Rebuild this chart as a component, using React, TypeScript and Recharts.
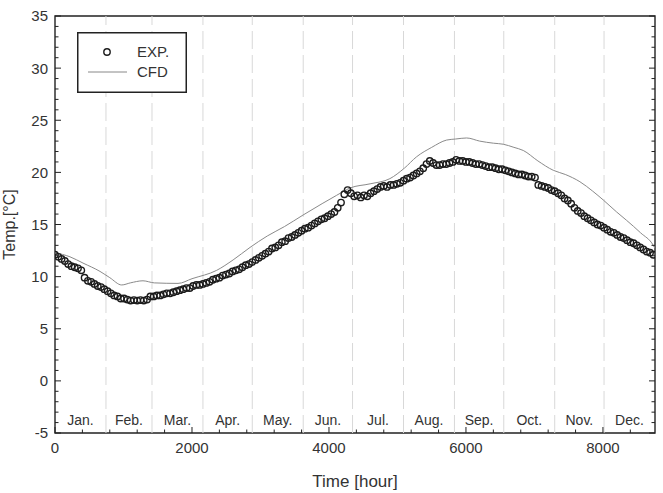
import React from "react";
import { ComposedChart, Scatter, Line, XAxis, YAxis, ReferenceLine, ReferenceArea, Legend } from "recharts";

// measured temperatures, one sample every EXP_STEP hours starting at hour 0
const EXP_STEP = 48;
const expTemps = [
  12.1, 11.9, 11.7, 11.5, 11.2, 11.0, 10.9, 10.8, 10.6, 9.9,
  9.6, 9.5, 9.3, 9.1, 9.0, 8.8, 8.6, 8.4, 8.2, 8.1,
  7.9, 7.9, 7.8, 7.7, 7.75, 7.7, 7.75, 7.7, 7.8, 8.1,
  8.1, 8.2, 8.2, 8.3, 8.4, 8.4, 8.5, 8.6, 8.7, 8.8,
  8.9, 8.9, 9.1, 9.2, 9.2, 9.3, 9.4, 9.5, 9.7, 9.8,
  9.9, 10.1, 10.2, 10.3, 10.5, 10.6, 10.7, 10.9, 11.1, 11.2,
  11.4, 11.6, 11.8, 12.0, 12.2, 12.4, 12.7, 12.8, 13.0, 13.3,
  13.4, 13.7, 13.8, 14.0, 14.2, 14.4, 14.6, 14.7, 14.9, 15.1,
  15.3, 15.5, 15.6, 15.8, 16.0, 16.2, 16.6, 17.1, 17.9, 18.3,
  18.0, 17.7, 17.8, 17.6, 17.8, 17.7, 18.0, 18.2, 18.4, 18.6,
  18.7, 18.6, 18.8, 18.8, 18.9, 19.0, 19.2, 19.4, 19.5, 19.7,
  19.9, 20.1, 20.4, 20.8, 21.1, 20.9, 20.7, 20.7, 20.8, 20.8,
  20.9, 21.0, 21.2, 21.1, 21.1, 21.0, 21.0, 20.9, 20.8, 20.8,
  20.7, 20.6, 20.5, 20.5, 20.4, 20.3, 20.3, 20.2, 20.1, 20.0,
  19.9, 19.8, 19.8, 19.7, 19.6, 19.6, 19.5, 18.8, 18.7, 18.6,
  18.5, 18.3, 18.2, 18.0, 17.8, 17.5, 17.3, 17.0, 16.6, 16.3,
  16.1, 15.8, 15.6, 15.4, 15.2, 15.0, 14.9, 14.7, 14.5, 14.3,
  14.2, 14.0, 13.8, 13.7, 13.5, 13.3, 13.2, 13.0, 12.8, 12.6,
  12.4, 12.3, 12.1,
];

// simulated temperature
const cfdHours = [
  0, 219, 409, 657, 800, 974, 1100, 1285, 1450, 1796,
  2000, 2360, 2600, 2847, 3100, 3350, 3620, 3900, 4112, 4307,
  4600, 4890, 5100, 5280, 5500, 5718, 5850, 6010, 6200, 6400,
  6545, 6700, 6837, 7050, 7275, 7450, 7664, 7850, 8005, 8200,
  8345, 8550, 8735, 8760,
];
const cfdTemps = [
  12.3, 11.9, 11.3, 10.5, 9.9, 9.2, 9.4, 9.6, 9.4, 9.35,
  9.8, 10.6, 11.6, 12.8, 13.9, 14.8, 15.9, 17.0, 17.8, 18.5,
  18.9, 19.4, 20.4, 21.5, 22.4, 23.1, 23.2, 23.3, 23.0, 22.8,
  22.7, 22.4, 22.1, 21.1, 20.2, 19.8, 19.1, 18.2, 17.35, 16.2,
  15.4, 14.2, 13.0, 12.7,
];

const monthNames = ["Jan.", "Feb.", "Mar.", "Apr.", "May.", "Jun.", "Jul.", "Aug.", "Sep.", "Oct.", "Nov.", "Dec."];
const monthStarts = [0, 744, 1416, 2160, 2880, 3624, 4344, 5088, 5832, 6552, 7296, 8016, 8760];

const xLabelTicks = [0, 2000, 4000, 6000, 8000];
const xMinorTicks = [0, 400, 800, 1200, 1600, 2000, 2400, 2800, 3200, 3600, 4000, 4400, 4800, 5200, 5600, 6000, 6400, 6800, 7200, 7600, 8000, 8400];
const yTicks = Array.from({ length: 41 }, (_, i) => i - 5);

const expData = expTemps.map((t, i) => ({ hour: i * EXP_STEP, temp: t }));
const cfdData = cfdHours.map((h, i) => ({ hour: h, temp: cfdTemps[i] }));

const FONT = "'Liberation Sans', Arial, sans-serif";
const INK = "#222";
const TEXT = "#333";

const LeftTick = (props: any) => {
  const { x, y, payload } = props;
  const major = payload.value % 5 === 0;
  return (
    <g>
      <line x1={x} x2={x + (major ? 6 : 3.5)} y1={y} y2={y} stroke={INK} strokeWidth={1} />
      {major && (
        <text x={x - 7} y={y} dy="0.36em" textAnchor="end" fontSize={15} fill={TEXT} fontFamily={FONT}>
          {payload.value}
        </text>
      )}
    </g>
  );
};

const RightTick = (props: any) => {
  const { x, y, payload } = props;
  const major = payload.value % 5 === 0;
  return <line x1={x} x2={x - (major ? 6 : 3.5)} y1={y} y2={y} stroke={INK} strokeWidth={1} />;
};

const BottomTick = (props: any) => {
  const { x, y, payload } = props;
  const major = payload.value % 2000 === 0;
  return (
    <g>
      <line x1={x} x2={x} y1={y} y2={y - (major ? 6 : 3.5)} stroke={INK} strokeWidth={1} />
      {xLabelTicks.includes(payload.value) && (
        <text x={x} y={y + 20} textAnchor="middle" fontSize={15} fill={TEXT} fontFamily={FONT}>
          {payload.value}
        </text>
      )}
    </g>
  );
};

const Circle = (props: any) => (
  <circle cx={props.cx} cy={props.cy} r={3.2} fill="none" stroke="#1c1c1c" strokeWidth={1.4} />
);

const LegendBox = () => (
  <svg width={110} height={61} style={{ display: "block" }}>
    <rect x={0.75} y={0.75} width={108.5} height={59.5} fill="#fff" stroke={INK} strokeWidth={1.5} />
    <circle cx={30} cy={20} r={3.2} fill="none" stroke="#1c1c1c" strokeWidth={1.4} />
    <text x={60} y={20} dy="0.36em" fontSize={15} fill={TEXT} fontFamily={FONT}>EXP.</text>
    <line x1={11} x2={50} y1={40} y2={40} stroke="#888" strokeWidth={1} />
    <text x={60} y={40} dy="0.36em" fontSize={15} fill={TEXT} fontFamily={FONT}>CFD</text>
  </svg>
);

export default function App() {
  return (
    <div style={{ position: "absolute", left: 0, top: 0, width: 663, height: 493, background: "#fff" }}>
      <ComposedChart width={663} height={493} margin={{ top: 16, right: 0, bottom: 0, left: 0 }}>
        <XAxis
          dataKey="hour"
          type="number"
          domain={[0, 8760]}
          ticks={xMinorTicks}
          interval={0}
          tick={<BottomTick />}
          tickSize={0}
          tickMargin={0}
          tickLine={false}
          axisLine={false}
          height={60}
          allowDataOverflow
          label={{
            content: (p: any) => {
              const vb = p.viewBox;
              return (
                <text x={vb.x + vb.width / 2} y={vb.y + 48} dominantBaseline="central" textAnchor="middle" fontSize={17} fill={TEXT} fontFamily={FONT}>
                  Time [hour]
                </text>
              );
            },
          }}
        />
        <YAxis
          dataKey="temp"
          type="number"
          domain={[-5, 35]}
          ticks={yTicks}
          interval={0}
          tick={<LeftTick />}
          tickSize={0}
          tickMargin={0}
          tickLine={false}
          axisLine={false}
          width={55}
          allowDataOverflow
          label={{
            content: (p: any) => {
              const vb = p.viewBox;
              const cx = vb.x + 9;
              const cy = vb.y + vb.height / 2;
              return (
                <text x={cx} y={cy} transform={`rotate(-90 ${cx} ${cy})`} dominantBaseline="central" textAnchor="middle" fontSize={16} fill={TEXT} fontFamily={FONT}>
                  Temp.[°C]
                </text>
              );
            },
          }}
        />
        <YAxis
          yAxisId="right"
          orientation="right"
          dataKey="temp"
          type="number"
          domain={[-5, 35]}
          ticks={yTicks}
          interval={0}
          tick={<RightTick />}
          tickSize={0}
          tickMargin={0}
          tickLine={false}
          axisLine={false}
          width={8}
          allowDataOverflow
        />
        {monthStarts.slice(1, -1).map((h) => (
          <ReferenceLine key={`edge-${h}`} x={h} stroke="#d8d8d8" strokeWidth={1} strokeDasharray="18 6" />
        ))}
        {monthNames.map((name, i) => (
          <ReferenceLine
            key={name}
            x={(monthStarts[i] + monthStarts[i + 1]) / 2}
            stroke="none"
            label={{ value: name, position: "insideBottom", offset: 8, fontSize: 14, fill: TEXT, fontFamily: FONT }}
          />
        ))}
        <ReferenceArea x1={0} x2={8760} y1={-5} y2={35} fill="none" stroke={INK} strokeWidth={1.4} ifOverflow="visible" />
        <Line data={cfdData} dataKey="temp" type="monotone" stroke="#8a8a8a" strokeWidth={1} dot={false} isAnimationActive={false} />
        <Scatter data={expData} dataKey="temp" shape={<Circle />} isAnimationActive={false} />
        <Legend
          verticalAlign="middle"
          layout="horizontal"
          wrapperStyle={{ position: "absolute", left: 77, top: 32, width: 110, height: 61, margin: 0, padding: 0 }}
          content={() => <LegendBox />}
        />
      </ComposedChart>
    </div>
  );
}
